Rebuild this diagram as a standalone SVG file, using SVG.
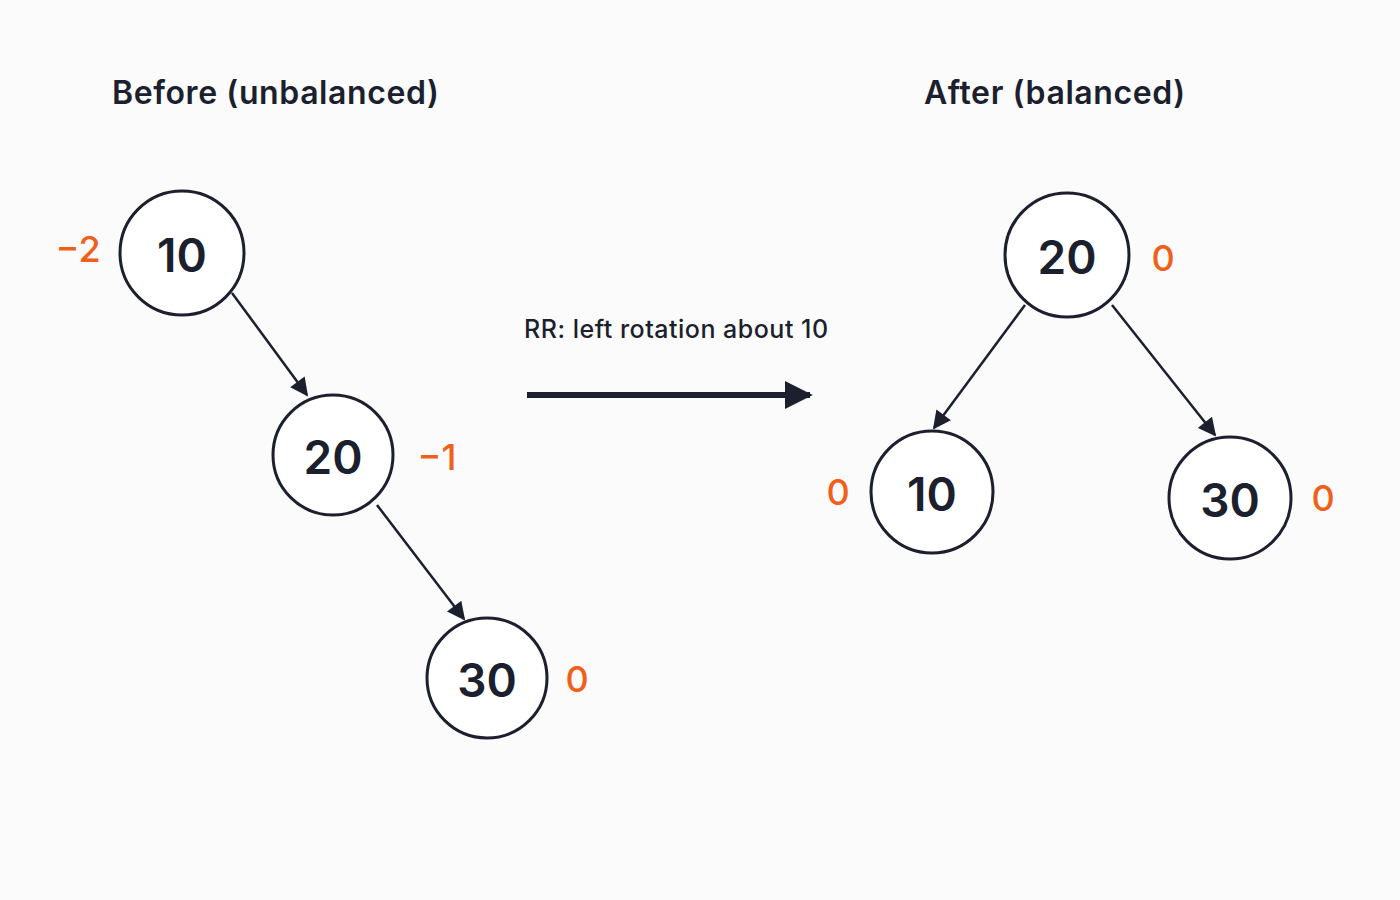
<svg xmlns="http://www.w3.org/2000/svg" width="1400" height="900" viewBox="0 0 1400 900">
<style>
text{font-family:Inter,"Noto Sans",sans-serif;fill:#1b1f2e}
.n circle{fill:#fff;stroke:#1b1f2e;stroke-width:3}
.n text{font-size:46px;font-weight:600;text-anchor:middle}
.b{fill:#f0601a !important;font-size:36px;font-weight:500;text-anchor:middle}
.t{font-size:32px;font-weight:600;letter-spacing:0.6px}
.e line{stroke:#1b1f2e;stroke-width:2.5}
</style>
<defs><marker id="a" viewBox="0 0 10 10" refX="9" refY="5" markerWidth="20" markerHeight="18" markerUnits="userSpaceOnUse" orient="auto"><path d="M0,0L10,5L0,10z" fill="#1b1f2e"/></marker>
<marker id="h" viewBox="0 0 10 10" refX="9" refY="5" markerWidth="28" markerHeight="38" markerUnits="userSpaceOnUse" orient="auto"><path d="M0,0L10,5L0,10z" fill="#1b1f2e"/></marker></defs>
<rect width="1400" height="900" fill="#fbfbfb"/>
<text class="t" x="112" y="104">Before (unbalanced)</text>
<text class="t" x="924" y="104">After (balanced)</text>
<text x="524" y="338" font-size="25" font-weight="500" letter-spacing="0.5">RR: left rotation about 10</text>
<g class="e">
<line x1="232" y1="293" x2="307" y2="395" marker-end="url(#a)"/>
<line x1="377" y1="505" x2="464" y2="619" marker-end="url(#a)"/>
<line x1="1025" y1="305" x2="934" y2="428" marker-end="url(#a)"/>
<line x1="1112" y1="305" x2="1215" y2="435" marker-end="url(#a)"/>
<line x1="527" y1="395" x2="810" y2="395" style="stroke-width:6" marker-end="url(#h)"/>
</g>
<g id="l10" class="n"><circle cx="182" cy="253" r="62"/><text x="182" y="272">10</text></g>
<g id="l20" class="n"><circle cx="333" cy="455" r="60"/><text x="333" y="474">20</text></g>
<g id="l30" class="n"><circle cx="487" cy="678" r="60"/><text x="487" y="697">30</text></g>
<g id="r20" class="n"><circle cx="1067" cy="255" r="62"/><text x="1067" y="274">20</text></g>
<g id="r10" class="n"><circle cx="932" cy="492" r="61"/><text x="932" y="511">10</text></g>
<g id="r30" class="n"><circle cx="1230" cy="498" r="61"/><text x="1230" y="517">30</text></g>
<text class="b" x="78" y="262">−2</text>
<text class="b" x="437" y="470">−1</text>
<text class="b" x="577" y="692">0</text>
<text class="b" x="1163" y="271">0</text>
<text class="b" x="838" y="505">0</text>
<text class="b" x="1323" y="511">0</text>
</svg>
